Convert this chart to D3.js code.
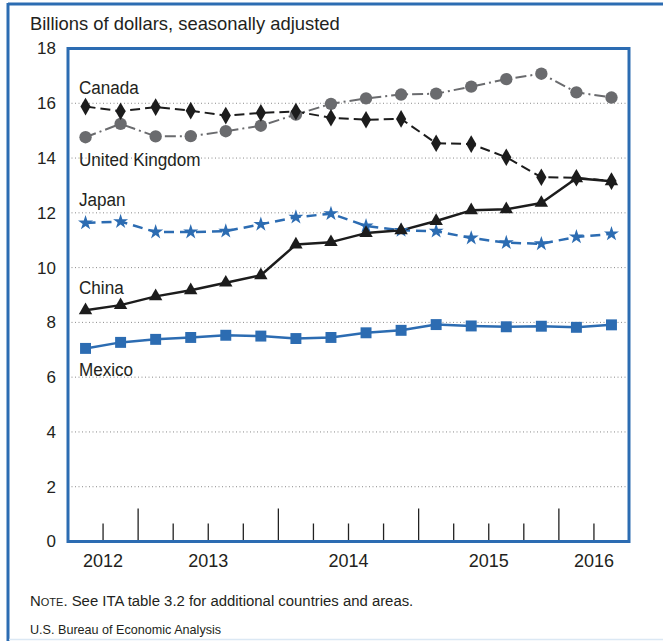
<!DOCTYPE html>
<html>
<head>
<meta charset="utf-8">
<script src="https://cdn.jsdelivr.net/npm/d3@7"></script>
<style>
  html, body { margin: 0; padding: 0; background: #fff; }
  svg { display: block; }
  text { font-family: "Liberation Sans", Arial, Helvetica, sans-serif; fill: #231f20; }
</style>
</head>
<body>
<script>
// Quarterly trade values, 2012 Q3 – 2016 Q2 (billions of dollars, seasonally adjusted)
const quarters = ["2012Q3","2012Q4","2013Q1","2013Q2","2013Q3","2013Q4","2014Q1","2014Q2",
                  "2014Q3","2014Q4","2015Q1","2015Q2","2015Q3","2015Q4","2016Q1","2016Q2"];
const years = ["2012","2013","2014","2015","2016"];
const yTicks = [0, 2, 4, 6, 8, 10, 12, 14, 16, 18];

const canada = [15.88, 15.71, 15.86, 15.73, 15.55, 15.65, 15.70, 15.47, 15.40, 15.43, 14.54, 14.51, 14.03, 13.30, 13.28, 13.16];
const unitedKingdom = [14.76, 15.25, 14.79, 14.80, 14.98, 15.18, 15.59, 15.98, 16.18, 16.32, 16.35, 16.61, 16.88, 17.08, 16.40, 16.21];
const japan = [11.63, 11.68, 11.30, 11.30, 11.33, 11.58, 11.84, 11.97, 11.52, 11.36, 11.33, 11.08, 10.91, 10.87, 11.12, 11.23];
const china = [8.44, 8.63, 8.95, 9.17, 9.45, 9.72, 10.84, 10.93, 11.26, 11.36, 11.70, 12.09, 12.13, 12.36, 13.26, 13.15];
const mexico = [7.05, 7.27, 7.38, 7.45, 7.53, 7.50, 7.41, 7.45, 7.62, 7.71, 7.92, 7.87, 7.84, 7.86, 7.82, 7.91];

const BLUE = "#2c6cb2";
const GREY = "#6a6b6e";
const BLACK = "#1c1c1c";

const series = [
  { name: "United Kingdom", values: unitedKingdom, color: GREY,  dash: "11,4,2,4", width: 2,   marker: "circle",   labelY: 13.72 },
  { name: "Canada",         values: canada,        color: BLACK, dash: "10,5",     width: 2,   marker: "diamond",  labelY: 16.34 },
  { name: "Japan",          values: japan,         color: BLUE,  dash: "10,6",     width: 2.5, marker: "star",     labelY: 12.25 },
  { name: "China",          values: china,         color: BLACK, dash: null,       width: 2.5, marker: "triangle", labelY: 9.03 },
  { name: "Mexico",         values: mexico,        color: BLUE,  dash: null,       width: 2.5, marker: "square",   labelY: 6.05 }
];

const W = 663, H = 641;
const plot = { left: 68, right: 629, top: 48.5, bottom: 541.5 };

const svg = d3.select("body").append("svg").attr("width", W).attr("height", H);

// outer panel border
svg.append("line").attr("x1", 8).attr("x2", W).attr("y1", 4).attr("y2", 4)
  .attr("stroke", BLUE).attr("stroke-width", 3);
svg.append("line").attr("x1", 8).attr("x2", 8).attr("y1", 3).attr("y2", H)
  .attr("stroke", BLUE).attr("stroke-width", 3);
svg.append("line").attr("x1", 9).attr("x2", W).attr("y1", 639.5).attr("y2", 639.5)
  .attr("stroke", "#dbe8f4").attr("stroke-width", 1.5);

// title
svg.append("text").attr("x", 30).attr("y", 29.5)
  .attr("font-size", 18.4).text("Billions of dollars, seasonally adjusted");

const x = d3.scaleBand().domain(quarters).range([plot.left, plot.right]).padding(0);
const y = d3.scaleLinear().domain([0, 18]).range([plot.bottom, plot.top]);
const cx = q => x(q) + x.bandwidth() / 2;

// dotted gridlines
svg.append("g").selectAll("line")
  .data(yTicks.filter(t => t > 0 && t < 18))
  .join("line")
  .attr("x1", plot.left).attr("x2", plot.right)
  .attr("y1", d => y(d)).attr("y2", d => y(d))
  .attr("stroke", "#8a8a8a").attr("stroke-width", 1)
  .attr("stroke-dasharray", "1,2.5");

// y axis labels
const yAxis = d3.axisLeft(y).tickValues(yTicks).tickSize(0).tickPadding(12);
const gy = svg.append("g").attr("transform", `translate(${plot.left},0)`).call(yAxis);
gy.select(".domain").remove();
gy.selectAll("text").attr("font-size", 17).attr("font-family", "Liberation Sans, Arial, sans-serif")
  .attr("fill", "#231f20");

// quarter tick marks rising from the baseline; year boundaries are longer
svg.append("g").selectAll("line")
  .data(quarters.slice(1))
  .join("line")
  .attr("x1", d => x(d)).attr("x2", d => x(d))
  .attr("y1", plot.bottom)
  .attr("y2", d => plot.bottom - (d.endsWith("Q1") ? 33 : 18))
  .attr("stroke", "#222").attr("stroke-width", 1.3);

// year labels centred under their quarters
svg.append("g").selectAll("text")
  .data(years)
  .join("text")
  .attr("x", yr => {
    const qs = quarters.filter(q => q.startsWith(yr));
    return (x(qs[0]) + x(qs[qs.length - 1]) + x.bandwidth()) / 2;
  })
  .attr("y", 567)
  .attr("text-anchor", "middle")
  .attr("font-size", 18)
  .text(d => d);

// lines
const line = vals => d3.line().x((d, i) => cx(quarters[i])).y(d => y(d))(vals);

series.forEach(s => {
  svg.append("path")
    .attr("d", line(s.values))
    .attr("fill", "none")
    .attr("stroke", s.color)
    .attr("stroke-width", s.width)
    .attr("stroke-dasharray", s.dash)
    .attr("stroke-linejoin", "round");
});

// markers
const symbolFor = {
  circle:   d3.symbol(d3.symbolCircle, 120),
  diamond:  d3.symbol(d3.symbolDiamond, 90),
  star:     d3.symbol(d3.symbolStar, 70),
  triangle: d3.symbol(d3.symbolTriangle, 78),
  square:   d3.symbol(d3.symbolSquare, 120)
};

series.forEach(s => {
  svg.append("g").selectAll("path")
    .data(s.values)
    .join("path")
    .attr("transform", (d, i) => `translate(${cx(quarters[i])},${y(d)})`)
    .attr("d", symbolFor[s.marker]())
    .attr("fill", s.color);
});

// series labels (slightly condensed lettering)
series.forEach(s => {
  svg.append("text")
    .attr("transform", `translate(79,${y(s.labelY)}) scale(0.9,1)`)
    .attr("font-size", 19)
    .text(s.name);
});

// plot frame
svg.append("rect")
  .attr("x", plot.left).attr("y", plot.top)
  .attr("width", plot.right - plot.left).attr("height", plot.bottom - plot.top)
  .attr("fill", "none").attr("stroke", BLUE).attr("stroke-width", 3);

// footnotes
const note = svg.append("text").attr("x", 30).attr("y", 605.5).attr("font-size", 14.9);
note.append("tspan").text("N");
note.append("tspan").attr("font-size", 11).text("OTE");
note.append("tspan").text(". See ITA table 3.2 for additional countries and areas.");

svg.append("text").attr("x", 30).attr("y", 634)
  .attr("font-size", 12.6).text("U.S. Bureau of Economic Analysis");
</script>
</body>
</html>
